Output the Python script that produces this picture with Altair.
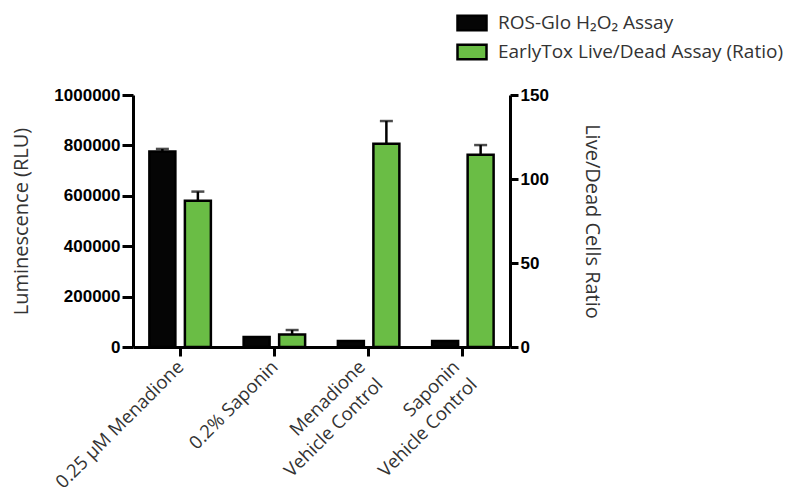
import altair as alt
import pandas as pd

categories = ["0.25 µM Menadione", "0.2% Saponin", "Menadione\nVehicle Control", "Saponin\nVehicle Control"]
series_names = ["ROS-Glo H₂O₂ Assay", "EarlyTox Live/Dead Assay (Ratio)"]
ros_values = [776000, 40000, 24000, 24000]
ros_err = [10000, 0, 0, 0]
ratio_values = [87, 7.5, 121, 114.5]
ratio_err = [5.5, 2.6, 13.5, 5.7]
series_colors = ["#050505", "#6abd45"]

ros = pd.DataFrame({"cat": categories, "series": series_names[0], "value": ros_values,
                    "top": [v + e for v, e in zip(ros_values, ros_err)], "err": ros_err})
ratio = pd.DataFrame({"cat": categories, "series": series_names[1], "value": ratio_values,
                      "top": [v + e for v, e in zip(ratio_values, ratio_err)], "err": ratio_err})

TXT = "#333333"
xenc = alt.X("cat:N", sort=categories, title=None,
             scale=alt.Scale(paddingInner=0.236, paddingOuter=0.118),
             axis=alt.Axis(labelAngle=-45, labelAlign="right", labelBaseline="top",
                           labelExpr="split(datum.label, '\\n')", labelLineHeight=25,
                           labelFont="Open Sans", labelFontSize=18.5, labelFontWeight="normal",
                           labelColor=TXT, labelPadding=1, labelLimit=400, tickSize=9,
                           labelOffset={"condition": {"test": "indexof(datum.value, '\\n') >= 0", "value": -13},
                                        "value": -6}))
xoff = alt.XOffset("series:N", scale=alt.Scale(domain=series_names, paddingInner=0.268, paddingOuter=0.148))
color = alt.Color("series:N", scale=alt.Scale(domain=series_names, range=series_colors),
                  legend=alt.Legend(title=None, orient="none", legendX=323, legendY=-88,
                                    symbolType="M-1,-0.5H1V0.5H-1Z", symbolSize=841,
                                    symbolStrokeColor="black", symbolStrokeWidth=2.5,
                                    symbolOpacity=1, labelFont="Open Sans", labelFontSize=19,
                                    labelColor=TXT, labelOffset=10, rowPadding=0,
                                    labelLimit=400))


def layer_for(df, ydomain, orient, title, tvals, tx, tangle, tsize):
    y = alt.Y("value:Q", scale=alt.Scale(domain=ydomain, nice=False, zero=True),
              axis=alt.Axis(orient=orient, title=title, values=tvals, grid=False, format="d",
                            labelFont="Liberation Sans", labelFontWeight="bold", labelFontSize=17,
                            labelColor="black", labelPadding=2, tickSize=tsize,
                            titleFont="Open Sans", titleFontSize=20,
                            titleFontWeight="normal", titleColor=TXT,
                            titleX=tx, titleY=126, titleAngle=tangle,
                            titleAlign="center", titleBaseline="middle"))
    base = alt.Chart(df)
    err = base.transform_filter("datum.err > 0").mark_rule(color="black", strokeWidth=2.5).encode(
        x=xenc, xOffset=xoff, y=alt.Y("value:Q"), y2="top:Q")
    cap = base.transform_filter("datum.err > 0").mark_tick(color="black", thickness=2.5, size=13).encode(
        x=xenc, xOffset=xoff, y=alt.Y("top:Q"))
    bar = base.mark_bar(stroke="black", strokeWidth=2.5, opacity=1).encode(
        x=xenc, xOffset=xoff, y=y, color=color)
    return alt.layer(err, bar, cap)


left = layer_for(ros, [0, 1000000], "left", "Luminescence (RLU)",
                 [0, 200000, 400000, 600000, 800000, 1000000], -112, 270, 11)
right = layer_for(ratio, [0, 150], "right", "Live/Dead Cells Ratio", [0, 50, 100, 150], 81, 90, 8)

chart = alt.layer(left, right).resolve_scale(y="independent").properties(
    width=377, height=252,
    padding={"left": 125, "top": 87, "right": 282, "bottom": 147},
    autosize=alt.AutoSizeParams(type="none"),
).configure_view(stroke=None).configure_axis(
    domainColor="black", domainWidth=3, tickColor="black", tickWidth=3
)

chart.save("out.html", embed_options={"renderer": "svg", "actions": False})
